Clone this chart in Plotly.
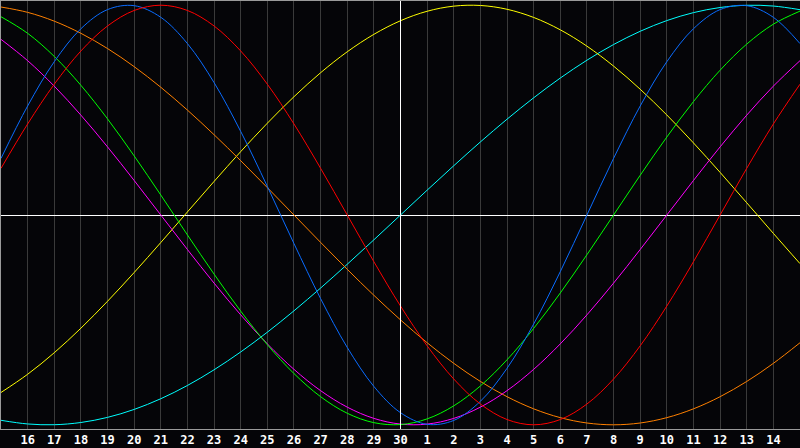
import plotly.graph_objects as go

# Day labels along the bottom (previous month 16..30, then 1..14)
day_labels = ["16", "17", "18", "19", "20", "21", "22", "23", "24", "25", "26", "27", "28", "29", "30",
              "1", "2", "3", "4", "5", "6", "7", "8", "9", "10", "11", "12", "13", "14"]
# day positions (0 = day before the first label, 30 = day after the last)
day_index = list(range(31))
today_label = "30"

physical = [0.2698, 0.5196, 0.7308, 0.8879, 0.9791, 0.9977, 0.9423, 0.8170, 0.6311, 0.3984, 0.1362,
            -0.1362, -0.3984, -0.6311, -0.8170, -0.9423, -0.9977, -0.9791, -0.8879, -0.7308, -0.5196,
            -0.2698, 0.0, 0.2698, 0.5196, 0.7308, 0.8879, 0.9791, 0.9977, 0.9423, 0.8170]
emotional = [0.2225, 0.4339, 0.6235, 0.7818, 0.9010, 0.9749, 1.0, 0.9749, 0.9010, 0.7818, 0.6235,
             0.4339, 0.2225, 0.0, -0.2225, -0.4339, -0.6235, -0.7818, -0.9010, -0.9749, -1.0,
             -0.9749, -0.9010, -0.7818, -0.6235, -0.4339, -0.2225, 0.0, 0.2225, 0.4339, 0.6235]
intellectual = [0.9450, 0.8660, 0.7558, 0.6182, 0.4582, 0.2817, 0.0951, -0.0951, -0.2817, -0.4582,
                -0.6182, -0.7558, -0.8660, -0.9450, -0.9898, -0.9989, -0.9718, -0.9096, -0.8146,
                -0.6901, -0.5406, -0.3717, -0.1893, 0.0, 0.1893, 0.3717, 0.5406, 0.6901, 0.8146,
                0.9096, 0.9718]
intuitive = [0.8372, 0.7357, 0.6142, 0.4759, 0.3247, 0.1646, 0.0, -0.1646, -0.3247, -0.4759, -0.6142,
             -0.7357, -0.8372, -0.9158, -0.9694, -0.9966, -0.9966, -0.9694, -0.9158, -0.8372, -0.7357,
             -0.6142, -0.4759, -0.3247, -0.1646, 0.0, 0.1646, 0.3247, 0.4759, 0.6142, 0.7357]
aesthetic = [-0.8459, -0.7592, -0.6564, -0.5395, -0.4112, -0.2741, -0.1311, 0.0146, 0.1600, 0.3021,
             0.4376, 0.5639, 0.6781, 0.7779, 0.8611, 0.9260, 0.9711, 0.9955, 0.9987, 0.9806, 0.9416,
             0.8826, 0.8047, 0.7097, 0.5995, 0.4766, 0.3435, 0.2031, 0.0584, -0.0876, -0.2317]
awareness = [0.9914, 0.9659, 0.9239, 0.8660, 0.7934, 0.7071, 0.6088, 0.5, 0.3827, 0.2588, 0.1305,
             0.0, -0.1305, -0.2588, -0.3827, -0.5, -0.6088, -0.7071, -0.7934, -0.8660, -0.9239,
             -0.9659, -0.9914, -1.0, -0.9914, -0.9659, -0.9239, -0.8660, -0.7934, -0.7071, -0.6088]
spiritual = [-0.9786, -0.9960, -0.9996, -0.9890, -0.9646, -0.9267, -0.8757, -0.8125, -0.7378, -0.6528,
             -0.5586, -0.4566, -0.3482, -0.2349, -0.1183, 0.0, 0.1183, 0.2349, 0.3482, 0.4566, 0.5586,
             0.6528, 0.7378, 0.8125, 0.8757, 0.9267, 0.9646, 0.9890, 0.9996, 0.9960, 0.9786]

series = [
    ("Spiritual", spiritual, "#00ffff"),
    ("Aesthetic", aesthetic, "#ffff00"),
    ("Awareness", awareness, "#ff8000"),
    ("Intuitive", intuitive, "#ff00ff"),
    ("Intellectual", intellectual, "#00ff00"),
    ("Physical", physical, "#0a6cff"),
    ("Emotional", emotional, "#ff0000"),
]

BG = "#050508"
fig = go.Figure()
for name, vals, col in series:
    fig.add_trace(go.Scatter(x=day_index, y=vals, mode="lines", name=name,
                             line=dict(color=col, width=1, shape="spline"),
                             hoverinfo="skip"))

tick_positions = [i + 1 for i in range(len(day_labels))]
today_pos = day_labels.index(today_label) + 1

fig.add_shape(type="line", xref="x", yref="paper", x0=today_pos, x1=today_pos, y0=0, y1=1,
              line=dict(color="#ffffff", width=1), layer="above")

fig.update_layout(
    width=800, height=448,
    margin=dict(l=1, r=0, t=1, b=19),
    paper_bgcolor=BG, plot_bgcolor=BG,
    showlegend=False,
    xaxis=dict(range=[day_index[0], day_index[-1]], tickvals=tick_positions, ticktext=day_labels,
               showgrid=True, gridcolor="#3a3a3a", gridwidth=1, zeroline=False,
               showline=True, linecolor="#9a9a9a", linewidth=1, mirror=True, ticks="",
               tickfont=dict(family="DejaVu Sans Mono", size=12, color="#ffffff", weight="bold"),
               fixedrange=True),
    yaxis=dict(range=[-1.02, 1.02], showgrid=False, zeroline=True, zerolinecolor="#ffffff",
               zerolinewidth=1, showticklabels=False, ticks="",
               showline=True, linecolor="#9a9a9a", linewidth=1, mirror=True, fixedrange=True),
)

fig.write_html("out.html", config={"displayModeBar": False, "staticPlot": True},
               post_script="document.body.style.margin='0';document.body.style.overflow='hidden';document.body.style.background='" + BG + "';")
